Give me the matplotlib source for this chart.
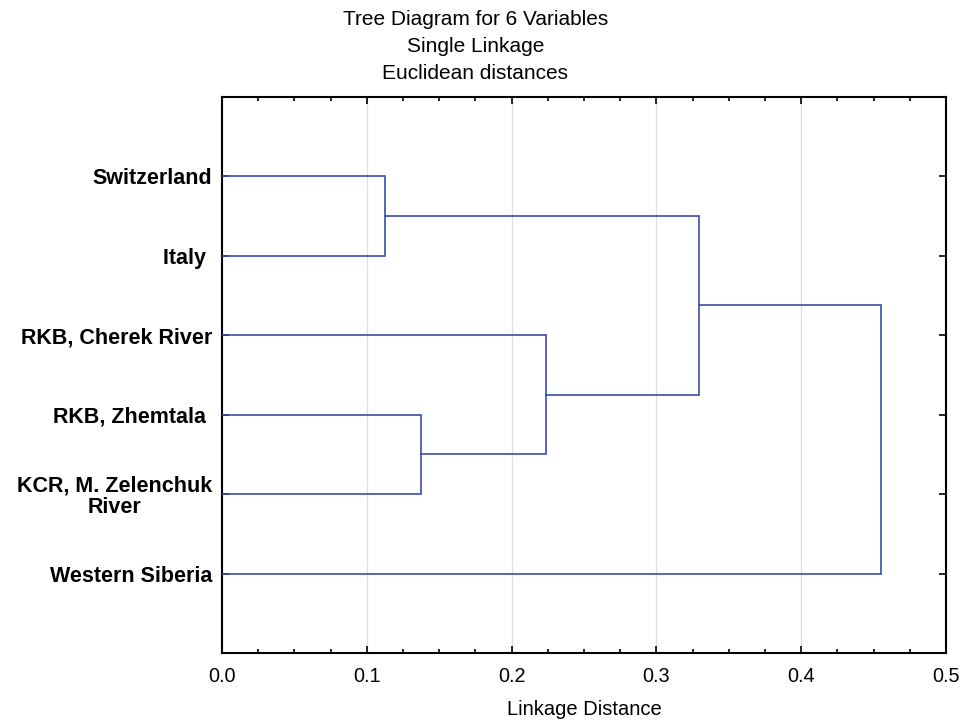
import matplotlib
matplotlib.use("Agg")
import matplotlib.pyplot as plt
from matplotlib.ticker import MultipleLocator

plt.rcParams['font.family'] = ['Liberation Sans', 'DejaVu Sans']

# leaves, top to bottom
leaves = ["Switzerland", "Italy ", "RKB, Cherek River", "RKB, Zhemtala ",
          "KCR, M. Zelenchuk\nRiver", "Western Siberia"]
# merges: (cluster a, cluster b, linkage distance); clusters 0-5 are leaves,
# new clusters are numbered from 6 in merge order
merges = [(0, 1, 0.1126),
          (3, 4, 0.1374),
          (2, 7, 0.2238),
          (6, 8, 0.3294),
          (9, 5, 0.4551)]
title_lines = ["Tree Diagram for 6 Variables", "Single Linkage", "Euclidean distances"]

line_color = '#3b4bab'

fig = plt.figure(figsize=(9.7, 7.22), dpi=100)
ax = fig.add_axes([0.2289, 0.0956, 0.9753 - 0.2289, 0.8657 - 0.0956])

pos = {i: i + 1 for i in range(len(leaves))}
height = {i: 0.0 for i in range(len(leaves))}
for k, (a, b, d) in enumerate(merges):
    ya, yb = pos[a], pos[b]
    ax.plot([height[a], d, d, height[b]], [ya, ya, yb, yb],
            color=line_color, lw=1.2, solid_joinstyle='miter', zorder=3)
    new = len(leaves) + k
    pos[new] = (ya + yb) / 2
    height[new] = d

ax.set_xlim(0, 0.5)
ax.set_ylim(7, 0)
ax.xaxis.set_major_locator(MultipleLocator(0.1))
ax.xaxis.set_minor_locator(MultipleLocator(0.025))
ax.set_xticklabels([f"{v:.1f}" for v in ax.get_xticks()])
ax.set_yticks(range(1, len(leaves) + 1))
ax.set_yticklabels(leaves, fontsize=15.5, fontweight='bold',
                   multialignment='center', linespacing=1.05)
ax.tick_params(axis='x', which='major', direction='in', length=5, width=1.2,
               labelsize=14.3, pad=10, top=True)
ax.tick_params(axis='x', which='minor', direction='in', length=3, width=1.2, top=True)
ax.tick_params(axis='y', direction='in', length=5, width=1.2, pad=7, right=True)
ax.grid(axis='x', which='major', color='#dedede', lw=0.9, zorder=0)
for s in ax.spines.values():
    s.set_linewidth(1.5)

ax.set_xlabel("Linkage Distance", fontsize=14.5, labelpad=10)
for i, t in enumerate(title_lines):
    fig.text(0.49, 1 - (19.5 + 27 * i) / 722, t, ha='center', va='center', fontsize=15)

fig.savefig("out.png", dpi=100)
